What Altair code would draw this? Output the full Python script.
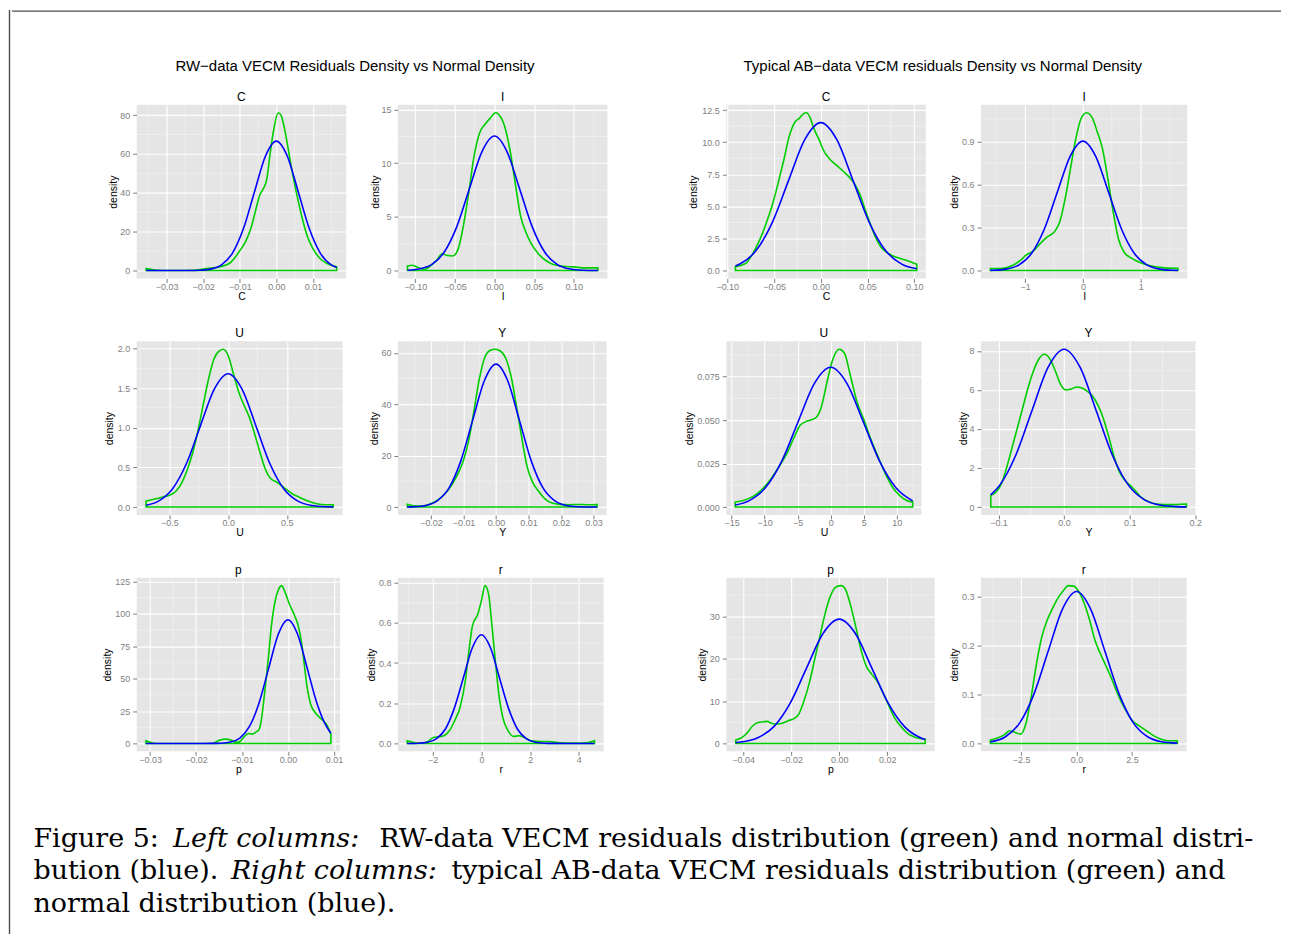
import altair as alt
import pandas as pd

# ---------------- data ----------------
# Left block: RW-data VECM residuals (green = kernel density, blue = normal density)
RW_C_GX = [-0.03563, -0.03272, -0.02786, -0.02301, -0.01913, -0.01524, -0.01233, -0.0099, -0.00845, -0.00699, -0.00553, -0.00456, -0.00359, -0.00262, -0.00165, -0.00068, 0.00049, 0.00126, 0.00223, 0.0032, 0.00417, 0.00563, 0.00709, 0.00854, 0.01, 0.01194, 0.01388, 0.0165]
RW_C_GY = [1.0, 0.2, 0.0, 0.1, 1.0, 2.0, 4.5, 10.5, 14.8, 21.6, 32.0, 38.8, 42.0, 47.0, 61.0, 73.0, 81.2, 80.0, 73.0, 63.0, 52.5, 38.8, 26.8, 17.3, 11.3, 6.2, 3.6, 1.9]
RW_C_BX = [-0.0356, -0.024, -0.021, -0.018, -0.015, -0.012, -0.009, -0.006, -0.003, 0.0, 0.003, 0.006, 0.009, 0.012, 0.015, 0.0165]
RW_C_BY = [0.0, 0.02, 0.15, 0.74, 2.92, 9.01, 21.6, 40.4, 58.8, 66.6, 58.8, 40.4, 21.6, 9.01, 2.92, 1.55]

RW_I_GX = [-0.1099, -0.1045, -0.0977, -0.0887, -0.0797, -0.073, -0.0662, -0.0595, -0.0527, -0.0459, -0.0392, -0.0324, -0.0257, -0.0189, -0.0122, -0.0054, 0.0014, 0.0059, 0.0126, 0.0194, 0.0261, 0.0329, 0.0396, 0.0464, 0.0554, 0.0644, 0.0734, 0.0869, 0.1005, 0.114, 0.1306]
RW_I_GY = [0.43, 0.5, 0.34, 0.12, 0.5, 0.96, 1.57, 1.4, 1.36, 2.0, 4.2, 7.3, 10.7, 12.8, 13.6, 14.2, 14.7, 14.5, 13.5, 11.3, 8.2, 5.1, 3.6, 2.5, 1.57, 0.96, 0.59, 0.4, 0.34, 0.25, 0.25]
RW_I_BX = [-0.1099, -0.0954, -0.0795, -0.0636, -0.0477, -0.0318, -0.0159, 0.0, 0.0159, 0.0318, 0.0477, 0.0636, 0.0795, 0.0954, 0.1113, 0.1306]
RW_I_BY = [0.032, 0.139, 0.55, 1.70, 4.07, 7.60, 11.06, 12.53, 11.06, 7.60, 4.07, 1.70, 0.55, 0.139, 0.028, 0.003]

RW_U_GX = [-0.699, -0.633, -0.557, -0.482, -0.437, -0.392, -0.346, -0.301, -0.256, -0.211, -0.166, -0.12, -0.075, -0.039, 0.0, 0.045, 0.09, 0.136, 0.181, 0.226, 0.271, 0.316, 0.361, 0.407, 0.452, 0.497, 0.542, 0.602, 0.663, 0.753, 0.828, 0.895]
RW_U_GY = [0.076, 0.097, 0.126, 0.16, 0.21, 0.315, 0.48, 0.69, 0.97, 1.3, 1.62, 1.87, 1.97, 1.99, 1.91, 1.68, 1.45, 1.28, 1.13, 0.92, 0.69, 0.48, 0.36, 0.32, 0.27, 0.22, 0.17, 0.126, 0.084, 0.042, 0.029, 0.029]
RW_U_BX = [-0.699, -0.594, -0.475, -0.356, -0.2375, -0.119, 0.0, 0.119, 0.2375, 0.356, 0.475, 0.594, 0.7125, 0.831, 0.895]
RW_U_BY = [0.022, 0.0738, 0.227, 0.545, 1.019, 1.483, 1.68, 1.483, 1.019, 0.545, 0.227, 0.0738, 0.0186, 0.0037, 0.0014]

RW_Y_GX = [-0.02726, -0.0253, -0.02312, -0.02094, -0.01876, -0.01658, -0.0144, -0.01221, -0.01003, -0.0084, -0.00676, -0.00513, -0.00349, -0.00185, -0.00022, 0.00142, 0.00305, 0.00469, 0.00633, 0.00796, 0.0096, 0.01123, 0.01287, 0.01505, 0.01723, 0.01941, 0.02268, 0.02486, 0.02814, 0.03108]
RW_Y_GY = [1.04, 0.5, 0.4, 0.9, 2.07, 4.1, 7.1, 11.7, 18.1, 25.9, 37.6, 49.9, 58.1, 60.9, 61.4, 60.6, 57.7, 50.5, 38.9, 26.6, 15.5, 9.7, 6.5, 3.2, 1.55, 1.04, 0.9, 1.0, 0.9, 1.0]
RW_Y_BX = [-0.0273, -0.0251, -0.0215, -0.018, -0.0144, -0.0108, -0.0072, -0.0036, 0.0, 0.0036, 0.0072, 0.0108, 0.0144, 0.018, 0.0215, 0.0251, 0.0311]
RW_Y_BY = [0.04, 0.122, 0.617, 2.44, 7.52, 18.05, 33.7, 49.1, 55.6, 49.1, 33.7, 18.05, 7.52, 2.44, 0.617, 0.122, 0.003]

RW_P_GX = [-0.03089, -0.02981, -0.02826, -0.02208, -0.01668, -0.01591, -0.01475, -0.01359, -0.01243, -0.01127, -0.0105, -0.00934, -0.00857, -0.0078, -0.00703, -0.00625, -0.00571, -0.0051, -0.00432, -0.00355, -0.00278, -0.00201, -0.00139, -0.00062, 0.00031, 0.00147, 0.00224, 0.00301, 0.00363, 0.00417, 0.00494, 0.0061, 0.00726, 0.00842, 0.00934]
RW_P_GY = [2.0, 0.8, 0.0, 0.0, 0.0, 0.8, 2.6, 3.3, 2.6, 0.8, 1.3, 5.9, 7.7, 7.2, 8.5, 11.0, 20.0, 38.0, 63.8, 92.0, 110.0, 119.0, 121.7, 116.5, 107.5, 98.5, 90.8, 76.6, 58.6, 43.2, 30.3, 23.1, 18.8, 14.4, 7.2]
RW_P_BX = [-0.0309, -0.02, -0.0167, -0.0146, -0.0125, -0.01045, -0.0084, -0.0063, -0.0042, -0.0021, 0.0, 0.0021, 0.0042, 0.0063, 0.0084, 0.00934]
RW_P_BY = [0.0, 0.0, 0.029, 0.21, 1.06, 4.19, 12.9, 31.0, 57.9, 84.2, 95.4, 84.2, 57.9, 31.0, 12.9, 7.87]

RW_R_GX = [-3.044, -2.781, -2.488, -2.195, -1.976, -1.756, -1.537, -1.317, -1.098, -0.878, -0.659, -0.512, -0.366, -0.146, 0.0, 0.146, 0.293, 0.439, 0.585, 0.732, 0.878, 1.098, 1.317, 1.537, 1.756, 2.049, 2.488, 2.781, 3.22, 3.805, 4.391, 4.639]
RW_R_GY = [0.013, 0.005, 0.002, 0.01, 0.03, 0.033, 0.038, 0.063, 0.113, 0.179, 0.312, 0.461, 0.586, 0.644, 0.71, 0.785, 0.744, 0.578, 0.395, 0.229, 0.129, 0.063, 0.035, 0.038, 0.03, 0.013, 0.01, 0.01, 0.003, 0.002, 0.005, 0.013]
RW_R_BX = [-3.044, -2.58, -2.21, -1.84, -1.47, -1.11, -0.737, -0.369, 0.0, 0.369, 0.737, 1.11, 1.47, 1.84, 2.21, 2.58, 2.95, 3.5, 4.639]
RW_R_BY = [0.0001, 0.0012, 0.006, 0.0238, 0.0732, 0.1757, 0.328, 0.477, 0.541, 0.477, 0.328, 0.1757, 0.0732, 0.0238, 0.006, 0.0012, 0.0002, 0.0, 0.0]

# Right block: typical AB-data VECM residuals
AB_C_GX = [-0.0913, -0.0849, -0.0792, -0.0736, -0.0679, -0.0623, -0.0566, -0.0509, -0.0453, -0.0396, -0.034, -0.0283, -0.0226, -0.0189, -0.0151, -0.0113, -0.0075, -0.0019, 0.0038, 0.0094, 0.017, 0.0245, 0.0302, 0.0358, 0.0415, 0.0472, 0.0528, 0.0585, 0.0642, 0.0698, 0.0774, 0.0849, 0.0943, 0.1026]
AB_C_GY = [0.29, 0.42, 0.62, 1.2, 2.0, 2.9, 4.05, 5.35, 6.9, 8.6, 10.4, 11.5, 11.9, 12.2, 12.3, 11.9, 11.1, 10.2, 9.25, 8.7, 8.2, 7.7, 7.3, 6.8, 6.0, 4.8, 3.66, 2.6, 1.84, 1.45, 1.14, 0.94, 0.73, 0.49]
AB_C_BX = [-0.0913, -0.0865, -0.0692, -0.0519, -0.0346, -0.0173, 0.0, 0.0173, 0.0346, 0.0519, 0.0692, 0.0865, 0.1026]
AB_C_BY = [0.354, 0.506, 1.56, 3.74, 6.99, 10.18, 11.53, 10.18, 6.99, 3.74, 1.56, 0.506, 0.142]

AB_I_GX = [-1.6, -1.415, -1.231, -1.077, -0.985, -0.862, -0.738, -0.615, -0.492, -0.4, -0.308, -0.215, -0.123, -0.031, 0.062, 0.154, 0.246, 0.338, 0.431, 0.523, 0.615, 0.708, 0.831, 0.985, 1.169, 1.415, 1.643]
AB_I_GY = [0.014, 0.014, 0.033, 0.072, 0.107, 0.135, 0.188, 0.235, 0.27, 0.34, 0.5, 0.71, 0.92, 1.06, 1.1, 1.07, 0.97, 0.85, 0.64, 0.41, 0.22, 0.13, 0.088, 0.056, 0.033, 0.019, 0.016]
AB_I_BX = [-1.6, -1.547, -1.326, -1.105, -0.884, -0.663, -0.442, -0.221, 0.0, 0.221, 0.442, 0.663, 0.884, 1.105, 1.326, 1.547, 1.643]
AB_I_BY = [0.0013, 0.002, 0.010, 0.0396, 0.122, 0.293, 0.547, 0.796, 0.902, 0.796, 0.547, 0.293, 0.122, 0.0396, 0.010, 0.002, 0.0009]

AB_U_GX = [-14.46, -13.23, -11.88, -10.54, -9.19, -7.85, -6.51, -5.43, -4.62, -3.82, -3.01, -2.2, -1.4, -0.59, 0.22, 1.29, 2.1, 2.9, 3.98, 5.05, 6.13, 7.2, 8.28, 9.35, 10.43, 11.51, 12.42]
AB_U_GY = [0.0029, 0.0038, 0.0058, 0.0096, 0.0154, 0.023, 0.0317, 0.041, 0.047, 0.049, 0.05, 0.0515, 0.0577, 0.0712, 0.0837, 0.0908, 0.0885, 0.077, 0.0606, 0.05, 0.0385, 0.0288, 0.0192, 0.0115, 0.0067, 0.0038, 0.0029]
AB_U_BX = [-14.46, -12.4, -9.92, -7.44, -4.96, -2.48, 0.0, 2.48, 4.96, 7.44, 9.92, 12.42]
AB_U_BY = [0.00115, 0.00353, 0.01088, 0.0261, 0.0488, 0.071, 0.0804, 0.071, 0.0488, 0.0261, 0.01088, 0.0035]

AB_Y_GX = [-0.1118, -0.1037, -0.0955, -0.0873, -0.0791, -0.0709, -0.0627, -0.0546, -0.0464, -0.0382, -0.03, -0.0218, -0.0136, -0.0055, 0.0027, 0.0109, 0.0191, 0.0273, 0.0355, 0.0436, 0.0518, 0.06, 0.0682, 0.0764, 0.0846, 0.0927, 0.1009, 0.1091, 0.1173, 0.1282, 0.1446, 0.1609, 0.1773, 0.1866]
AB_Y_GY = [0.6, 0.77, 1.2, 2.05, 3.08, 4.1, 5.13, 6.15, 7.0, 7.6, 7.83, 7.6, 7.0, 6.3, 6.0, 6.05, 6.15, 6.1, 5.93, 5.68, 5.21, 4.53, 3.59, 2.56, 1.79, 1.37, 1.11, 0.82, 0.51, 0.29, 0.14, 0.12, 0.14, 0.15]
AB_Y_BX = [-0.1118, -0.0986, -0.074, -0.0493, -0.0247, 0.0, 0.0247, 0.0493, 0.074, 0.0986, 0.1233, 0.1479, 0.1726, 0.1866]
AB_Y_BY = [0.618, 1.095, 2.627, 4.907, 7.14, 8.09, 7.14, 4.907, 2.627, 1.095, 0.355, 0.0898, 0.0178, 0.006]

AB_P_GX = [-0.04305, -0.0404, -0.03818, -0.03597, -0.03376, -0.03155, -0.03008, -0.02786, -0.02565, -0.02344, -0.02123, -0.01902, -0.01681, -0.0146, -0.01238, -0.01017, -0.00796, -0.00575, -0.00354, -0.00133, 0.00088, 0.00236, 0.00457, 0.00678, 0.00899, 0.0112, 0.01342, 0.01563, 0.01784, 0.02005, 0.023, 0.02595, 0.0289, 0.03184, 0.03582]
AB_P_GY = [0.79, 1.42, 2.6, 4.17, 4.96, 5.1, 5.2, 4.7, 4.57, 4.8, 5.35, 5.8, 6.9, 10.1, 14.4, 19.9, 25.4, 30.9, 34.9, 36.9, 37.2, 36.6, 32.9, 27.8, 22.3, 18.3, 16.4, 14.8, 12.4, 9.7, 6.1, 3.8, 2.2, 1.42, 1.0]
AB_P_BX = [-0.04305, -0.0409, -0.0341, -0.0272, -0.0204, -0.0136, -0.0068, 0.0, 0.0068, 0.0136, 0.0204, 0.0272, 0.0341, 0.03582]
AB_P_BY = [0.2, 0.325, 1.286, 3.96, 9.51, 17.77, 25.86, 29.3, 25.86, 17.77, 9.51, 3.96, 1.286, 0.93]

AB_R_GX = [-3.894, -3.574, -3.253, -3.013, -2.772, -2.532, -2.292, -2.051, -1.811, -1.571, -1.33, -1.09, -0.849, -0.609, -0.369, -0.128, 0.112, 0.353, 0.593, 0.833, 1.074, 1.314, 1.554, 1.795, 2.035, 2.276, 2.516, 2.837, 3.157, 3.478, 3.798, 4.119, 4.551]
AB_R_GY = [0.0068, 0.011, 0.018, 0.026, 0.0226, 0.019, 0.0397, 0.0945, 0.163, 0.218, 0.252, 0.276, 0.297, 0.312, 0.323, 0.322, 0.31, 0.286, 0.252, 0.211, 0.184, 0.16, 0.136, 0.108, 0.084, 0.064, 0.047, 0.036, 0.026, 0.016, 0.009, 0.0055, 0.0055]
AB_R_BX = [-3.894, -3.21, -2.566, -1.925, -1.283, -0.642, 0.0, 0.642, 1.283, 1.925, 2.566, 3.21, 3.85, 4.551]
AB_R_BY = [0.0031, 0.01365, 0.0421, 0.101, 0.1886, 0.2745, 0.311, 0.2745, 0.1886, 0.101, 0.0421, 0.01365, 0.00345, 0.0006]

# axis ranges, breaks (major / minor) and label formats per panel
AXES = {
    "RW_C": dict(xd=[-0.0382, 0.0191], yd=[-4.06, 85.26], xt=[-0.03, -0.02, -0.01, 0.0, 0.01], yt=[0, 20, 40, 60, 80],
                 xm=[-0.035, -0.025, -0.015, -0.005, 0.005, 0.015], ym=[10, 30, 50, 70], xf=".2f", yf="d"),
    "RW_I": dict(xd=[-0.122, 0.1426], yd=[-0.735, 15.435], xt=[-0.10, -0.05, 0.0, 0.05, 0.10], yt=[0, 5, 10, 15],
                 xm=[-0.075, -0.025, 0.025, 0.075, 0.125], ym=[2.5, 7.5, 12.5], xf=".2f", yf="d"),
    "RW_U": dict(xd=[-0.779, 0.975], yd=[-0.0995, 2.0895], xt=[-0.5, 0.0, 0.5], yt=[0.0, 0.5, 1.0, 1.5, 2.0],
                 xm=[-0.75, -0.25, 0.25, 0.75], ym=[0.25, 0.75, 1.25, 1.75], xf=".1f", yf=".1f"),
    "RW_Y": dict(xd=[-0.03018, 0.034], yd=[-3.07, 64.47], xt=[-0.02, -0.01, 0.0, 0.01, 0.02, 0.03], yt=[0, 20, 40, 60],
                 xm=[-0.025, -0.015, -0.005, 0.005, 0.015, 0.025], ym=[10, 30, 50], xf=".2f", yf="d"),
    "RW_P": dict(xd=[-0.0329, 0.01135], yd=[-6.085, 127.785], xt=[-0.03, -0.02, -0.01, 0.0, 0.01], yt=[0, 25, 50, 75, 100, 125],
                 xm=[-0.025, -0.015, -0.005, 0.005], ym=[12.5, 37.5, 62.5, 87.5, 112.5], xf=".2f", yf="d"),
    "RW_R": dict(xd=[-3.428, 5.023], yd=[-0.03925, 0.82425], xt=[-2, 0, 2, 4], yt=[0.0, 0.2, 0.4, 0.6, 0.8],
                 xm=[-3, -1, 1, 3, 5], ym=[0.1, 0.3, 0.5, 0.7], xf="d", yf=".1f"),
    "AB_C": dict(xd=[-0.101, 0.1123], yd=[-0.615, 12.915], xt=[-0.10, -0.05, 0.0, 0.05, 0.10], yt=[0.0, 2.5, 5.0, 7.5, 10.0, 12.5],
                 xm=[-0.075, -0.025, 0.025, 0.075], ym=[1.25, 3.75, 6.25, 8.75, 11.25], xf=".2f", yf=".1f"),
    "AB_I": dict(xd=[-1.762, 1.805], yd=[-0.055, 1.155], xt=[-1, 0, 1], yt=[0.0, 0.3, 0.6, 0.9],
                 xm=[-1.5, -0.5, 0.5, 1.5], ym=[0.15, 0.45, 0.75, 1.05], xf="d", yf=".1f"),
    "AB_U": dict(xd=[-15.804, 13.764], yd=[-0.00454, 0.09534], xt=[-15, -10, -5, 0, 5, 10], yt=[0.0, 0.025, 0.05, 0.075],
                 xm=[-12.5, -7.5, -2.5, 2.5, 7.5, 12.5], ym=[0.0125, 0.0375, 0.0625, 0.0875], xf="d", yf=".3f"),
    "AB_Y": dict(xd=[-0.1267, 0.2015], yd=[-0.4045, 8.4945], xt=[-0.1, 0.0, 0.1, 0.2], yt=[0, 2, 4, 6, 8],
                 xm=[-0.05, 0.05, 0.15], ym=[1, 3, 5, 7], xf=".1f", yf="d"),
    "AB_P": dict(xd=[-0.04699, 0.03976], yd=[-1.86, 39.06], xt=[-0.04, -0.02, 0.0, 0.02], yt=[0, 10, 20, 30],
                 xm=[-0.03, -0.01, 0.01, 0.03], ym=[5, 15, 25, 35], xf=".2f", yf="d"),
    "AB_R": dict(xd=[-4.316, 4.973], yd=[-0.01615, 0.33915], xt=[-2.5, 0.0, 2.5], yt=[0.0, 0.1, 0.2, 0.3],
                 xm=[-3.75, -1.25, 1.25, 3.75], ym=[0.05, 0.15, 0.25], xf=".1f", yf=".1f"),
}

CURVES = {
    "RW_C": ("C", RW_C_GX, RW_C_GY, RW_C_BX, RW_C_BY),
    "RW_I": ("I", RW_I_GX, RW_I_GY, RW_I_BX, RW_I_BY),
    "RW_U": ("U", RW_U_GX, RW_U_GY, RW_U_BX, RW_U_BY),
    "RW_Y": ("Y", RW_Y_GX, RW_Y_GY, RW_Y_BX, RW_Y_BY),
    "RW_P": ("p", RW_P_GX, RW_P_GY, RW_P_BX, RW_P_BY),
    "RW_R": ("r", RW_R_GX, RW_R_GY, RW_R_BX, RW_R_BY),
    "AB_C": ("C", AB_C_GX, AB_C_GY, AB_C_BX, AB_C_BY),
    "AB_I": ("I", AB_I_GX, AB_I_GY, AB_I_BX, AB_I_BY),
    "AB_U": ("U", AB_U_GX, AB_U_GY, AB_U_BX, AB_U_BY),
    "AB_Y": ("Y", AB_Y_GX, AB_Y_GY, AB_Y_BX, AB_Y_BY),
    "AB_P": ("p", AB_P_GX, AB_P_GY, AB_P_BX, AB_P_BY),
    "AB_R": ("r", AB_R_GX, AB_R_GY, AB_R_BX, AB_R_BY),
}

TITLE_LEFT = "RW\u2212data VECM Residuals Density vs Normal Density"
TITLE_RIGHT = "Typical AB\u2212data VECM residuals Density vs Normal Density"

CAPTION = [
    ("Figure 5:", False), ("Left columns:", True), ("RW-data VECM residuals distribution (green) and normal distri-", False),
    ("bution (blue).", False), ("Right columns:", True), ("typical AB-data VECM residuals distribution (green) and", False),
    ("normal distribution (blue).", False),
]

# ---------------- layout / style ----------------
GREEN = "#00CD00"
BLUE = "#0000FF"
PANEL_BG = "#E5E5E5"
MINOR = "#F2F2F2"
BORDER = "#4D4D4D"
SANS = "Liberation Sans"
SERIF = "DejaVu Serif"
PANEL_H = 174
# plot width and y-axis extent per panel
SIZE = {
    "RW_C": (210, 16.9), "RW_U": (206.4, 20.5), "RW_P": (203.9, 23.0),
    "RW_I": (210, 16.2), "RW_Y": (209.2, 17.0), "RW_R": (206.4, 19.8),
    "AB_C": (200, 26.5), "AB_U": (195.7, 30.8), "AB_P": (208.9, 17.6),
    "AB_I": (206.8, 19.8), "AB_Y": (215.7, 10.9), "AB_R": (206.1, 20.5),
}
CAP_POS = [(21.5, 27), (161.5, 27), (368, 27), (21.5, 59.5), (219.5, 59.5), (440.5, 59.5), (21.5, 92)]


def panel(key):
    name, gx, gy, bx, by = CURVES[key]
    a = AXES[key]
    w, ext = SIZE[key]
    X = alt.X("x:Q", scale=alt.Scale(domain=a["xd"], nice=False, zero=False),
              axis=alt.Axis(values=a["xt"], format=a["xf"], title=name, labelFlush=False, labelOverlap=False))
    Y = alt.Y("y:Q", scale=alt.Scale(domain=a["yd"], nice=False, zero=False),
              axis=alt.Axis(values=a["yt"], format=a["yf"], title="density", minExtent=ext, maxExtent=ext,
                            labelOverlap=False))
    mx = alt.Chart(pd.DataFrame({"x": a["xm"]})).mark_rule(color=MINOR, strokeWidth=0.7).encode(x=X)
    my = alt.Chart(pd.DataFrame({"y": a["ym"]})).mark_rule(color=MINOR, strokeWidth=0.7).encode(y=Y)
    green = alt.Chart(pd.DataFrame({"x": gx, "y": gy})).mark_area(
        fillOpacity=0, stroke=GREEN, strokeWidth=1.6, interpolate="monotone").encode(x=X, y=Y)
    blue = alt.Chart(pd.DataFrame({"x": bx, "y": by})).mark_line(
        color=BLUE, strokeWidth=1.6, interpolate="monotone").encode(x=X, y=Y)
    return alt.layer(mx, my, green, blue).properties(
        width=w, height=PANEL_H,
        title=alt.TitleParams(name, fontSize=12, offset=0.5, anchor="middle", frame="group"),
        view=alt.ViewBackground(fill=PANEL_BG),
    )


def column(keys):
    return alt.vconcat(*[panel(k) for k in keys], spacing=25)


left = alt.hconcat(column(["RW_C", "RW_U", "RW_P"]), column(["RW_I", "RW_Y", "RW_R"]), spacing=18.8,
                   title=alt.TitleParams(TITLE_LEFT, fontSize=15, anchor="middle", offset=17))
right = alt.hconcat(column(["AB_C", "AB_U", "AB_P"]), column(["AB_I", "AB_Y", "AB_R"]), spacing=13.3,
                    title=alt.TitleParams(TITLE_RIGHT, fontSize=15, anchor="middle", offset=17))
groups = alt.hconcat(left, right, spacing=75)

dummy = pd.DataFrame({"a": [0]})
spacer = alt.Chart(dummy).mark_point(opacity=0).encode(x=alt.value(40), y=alt.value(5)).properties(width=89.2, height=10)
main = alt.hconcat(spacer, groups, spacing=0)

segs = []
for (txt, ital), (px, py) in zip(CAPTION, CAP_POS):
    kw = dict(align="left", baseline="alphabetic", font=SERIF, fontSize=27, color="#000000", text=txt)
    if ital:
        kw["fontStyle"] = "italic"
    segs.append(alt.Chart(dummy).mark_text(**kw).encode(x=alt.value(px), y=alt.value(py)))
caption = alt.layer(*segs).properties(width=1240, height=100)

# frame of the figure box (top and left edges)
hline = alt.Chart(dummy).mark_rule(color=BORDER, strokeWidth=1.4).encode(
    x=alt.value(0), x2=alt.value(1272), y=alt.value(1)).properties(width=1272, height=2)
vline = alt.Chart(dummy).mark_rule(color=BORDER, strokeWidth=1.4).encode(
    x=alt.value(0.5), y=alt.value(0), y2=alt.value(926)).properties(width=1, height=926)

body = alt.vconcat(main, caption, spacing=44.7)
rest = alt.vconcat(hline, body, spacing=47)

chart = alt.hconcat(vline, rest, spacing=0).properties(
    padding={"left": 0, "top": 0, "right": 0, "bottom": 0}
).configure_view(stroke=None).configure_axis(
    labelFont=SANS, labelFontSize=9, labelColor="#7F7F7F",
    tickColor="#7F7F7F", tickSize=4, tickWidth=1,
    domain=False, gridColor="#FFFFFF", gridWidth=1.1,
    titleFont=SANS, titleFontSize=10.5, titleFontWeight="normal", titleColor="#000000",
).configure_axisX(labelPadding=0, titlePadding=0).configure_axisY(labelPadding=3, titlePadding=1.5).configure_title(
    font=SANS, fontWeight="normal", color="#000000"
)

chart.save("out.html", embed_options={"renderer": "svg", "actions": False})
